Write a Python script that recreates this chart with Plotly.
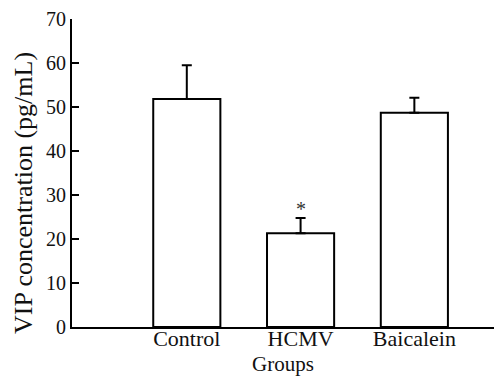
import plotly.graph_objects as go

categories = ["Control", "HCMV", "Baicalein"]
values = [51.8, 21.3, 48.7]
errors = [7.7, 3.5, 3.4]
y_ticks = [0, 10, 20, 30, 40, 50, 60, 70]
significance = ["", "*", ""]

FONT = "Liberation Serif, Times New Roman, serif"
TXT = "#111"

fig = go.Figure()
fig.add_trace(go.Bar(
    x=categories, y=values, width=0.59,
    marker=dict(color="white", line=dict(color="black", width=2)),
    error_y=dict(type="data", array=errors, arrayminus=[0] * len(errors),
                 color="black", thickness=2, width=5),
    showlegend=False,
))

for c, v, e, s in zip(categories, values, errors, significance):
    if s:
        fig.add_annotation(x=c, y=v + e, text=s, showarrow=False,
                           yanchor="bottom", yshift=-4,
                           font=dict(family=FONT, size=20, color="#333"))

fig.add_annotation(xref="paper", yref="paper", x=0, y=0.435, xshift=-49,
                   xanchor="center", yanchor="middle",
                   text="VIP concentration (pg/mL)", textangle=-90,
                   showarrow=False, font=dict(family=FONT, size=26, color=TXT))
fig.add_annotation(xref="paper", yref="paper", x=0.5, y=0, yshift=-37,
                   xanchor="center", yanchor="middle", text="Groups",
                   showarrow=False, font=dict(family=FONT, size=21, color=TXT))

fig.update_layout(
    width=494, height=376,
    margin=dict(l=72, r=0, t=19, b=49),
    plot_bgcolor="white", paper_bgcolor="white",
    xaxis=dict(type="category", range=[-1.009, 2.70], showline=True,
               linecolor="black", linewidth=2, ticks="", showgrid=False,
               ticklabelstandoff=-9,
               tickfont=dict(family=FONT, size=22, color=TXT)),
    yaxis=dict(range=[0, 70], tickvals=y_ticks, showline=True,
               linecolor="black", linewidth=2, ticks="inside", ticklen=7,
               tickwidth=2, tickcolor="black", showgrid=False, zeroline=False,
               tickfont=dict(family=FONT, size=20, color=TXT)),
)

fig.write_html("out.html")
